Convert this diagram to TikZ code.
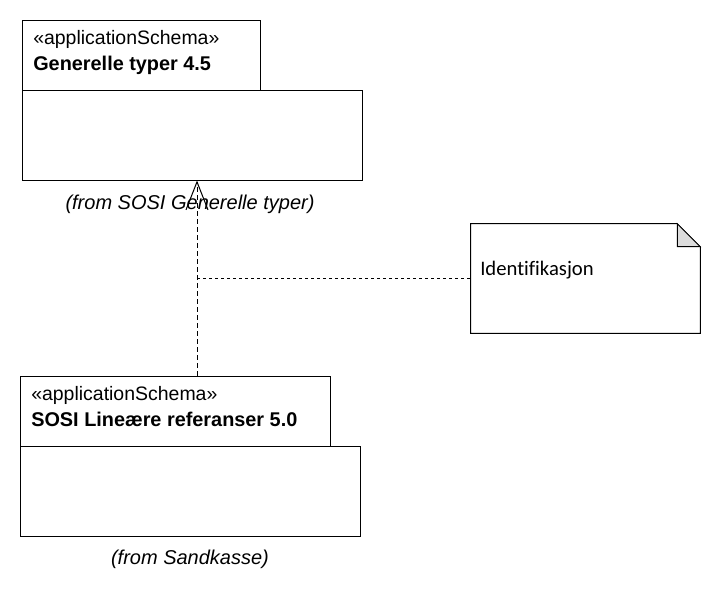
\documentclass[tikz,border=0pt]{standalone}
\usepackage{fontspec}
\setmainfont{Liberation Sans}
\newfontfamily\notefont[Ligatures=NoCommon]{Carlito}
\usetikzlibrary{arrows.meta,calc}

\definecolor{foldgray}{RGB}{220,220,220}

\tikzset{
  pkg/.style={draw, line width=0.75pt, inner sep=0pt, fill=white},
  stereo/.style={anchor=base west, inner sep=0pt, font=\fontsize{14.6}{17}\selectfont},
  pkgname/.style={anchor=base west, inner sep=0pt, font=\fontsize{14.9}{17}\selectfont\bfseries},
  fromlabel/.style={anchor=base, inner sep=0pt, font=\fontsize{15}{18}\selectfont\itshape},
  depline/.style={line width=0.75pt, dash pattern=on 3.75pt off 2.25pt, -{Straight Barb[length=21pt,width=16.5pt]}},
  notelink/.style={line width=0.75pt, dash pattern=on 2.25pt off 2.25pt},
}

\begin{document}
\begin{tikzpicture}[x=0.75pt,y=-0.75pt]
            \useasboundingbox[fill=white] (0,0) rectangle (720,594);

            % package Generelle typer
            \node[pkg, minimum width=178.5pt, minimum height=52.5pt] (genTab) at (141,55) {};
            \node[pkg, minimum width=255pt, minimum height=67.5pt] (genBody) at (192,135) {};
            \node[stereo] (genStereo) at (33,44.5) {«applicationSchema»};
            \node[pkgname] (genName) at (33,70) {Generelle typer 4.5};
            \node[fromlabel] (genFrom) at (190,209.5) {(from SOSI Generelle typer)};

            % package SOSI Lineære referanser
            \node[pkg, minimum width=232.5pt, minimum height=52.5pt] (linTab) at (175,411) {};
            \node[pkg, minimum width=255pt, minimum height=67.5pt] (linBody) at (190,491) {};
            \node[stereo] (linStereo) at (31,400) {«applicationSchema»};
            \node[pkgname] (linName) at (31,426) {SOSI Lineære referanser 5.0};
            \node[fromlabel] (linFrom) at (190,564) {(from Sandkasse)};

            % note
            \node[minimum width=171.75pt, minimum height=81.75pt, inner sep=0pt] (note) at (585.5,278.5) {};
            \draw[line width=0.75pt] (note.north west) -- ($(note.north east)+(-17.25pt,0)$)
                -- ($(note.north east)+(0,-17.25pt)$) -- (note.south east) -- (note.south west) -- cycle;
            \filldraw[line width=0.75pt, fill=foldgray] ($(note.north east)+(-17.25pt,0)$)
                -- ($(note.north east)+(-17.25pt,-17.25pt)$) -- ($(note.north east)+(0,-17.25pt)$) -- cycle;
            \node[anchor=base west, inner sep=0pt, font=\notefont\fontsize{15.5}{18}\selectfont] (noteText) at (480,275.5) {Identifikasjon};

            % dependency and note link
            \coordinate (depx) at (197,0);
            \draw[depline] (linTab.north -| depx) -- (genBody.south -| depx);
            \draw[notelink] (depx |- note.west) -- (note.west);
\end{tikzpicture}
\end{document}
